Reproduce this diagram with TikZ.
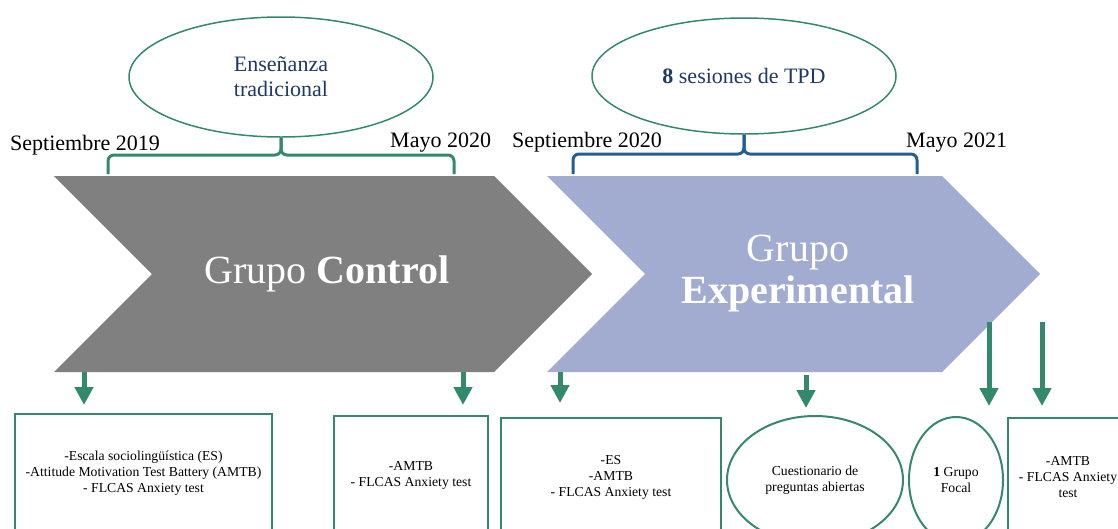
\documentclass[tikz,border=0pt]{standalone}
\usepackage{fontspec}
\setmainfont{Liberation Serif}
\usetikzlibrary{shapes,arrows.meta,positioning}
\definecolor{verde}{RGB}{50,137,108}
\definecolor{azul}{RGB}{35,94,145}
\definecolor{marino}{RGB}{31,56,100}
\definecolor{lila}{RGB}{162,171,208}
\definecolor{gris}{RGB}{128,128,128}
\tikzstyle{burbuja}=[ellipse,draw=verde,line width=1.5pt,inner sep=0pt,align=center,text=marino,font=\fontsize{22}{25}\selectfont]
\tikzstyle{burbujachica}=[ellipse,draw=verde,line width=2pt,inner sep=0pt,align=center,font=\fontsize{13.7}{16}\selectfont]
\tikzstyle{caja}=[rectangle,draw=verde,line width=2pt,inner sep=0pt,align=center,font=\fontsize{13.7}{16}\selectfont]
\tikzstyle{fecha}=[anchor=base west,inner sep=0pt,font=\fontsize{22}{26}\selectfont]
\tikzstyle{grupo}=[text=white,align=center,font=\fontsize{40}{42}\selectfont]
\tikzstyle{llave}=[line width=3pt,rounded corners=6pt]
\tikzstyle{flecha}=[draw=verde,line width=5pt,-{Triangle[width=18pt,length=18pt]}]

\begin{document}
\begin{tikzpicture}[x=1pt,y=-1pt]
\useasboundingbox (0,0) rectangle (1118,528);
\clip (0,0) rectangle (1118,528);

%Control
    \fill[gris] (54,176) -- (494,176) -- (592,274) -- (494,372) -- (54,372) -- (152,274) -- cycle;
    \node[grupo] (gctrl) at (327,274) {Grupo \textbf{Control}};
    \node[burbuja, minimum width=304pt, minimum height=120pt] (ens) at (281,77) {Ense\~nanza\\tradicional};
    \coordinate (ci) at (108,174);
    \coordinate (cf) at (454,174);
    \draw[llave,verde] (ens.south) |- (ci |- 0,155) -- (ci);
    \draw[llave,verde] (ens.south) |- (cf |- 0,155) -- (cf);

%Experimental
    \fill[lila] (547,176) -- (942,176) -- (1040,274) -- (942,372) -- (547,372) -- (645,274) -- cycle;
    \node[grupo] (gexp) at (798,274) {Grupo\\\textbf{Experimental}};
    \node[burbuja, minimum width=304pt, minimum height=116pt] (tpd) at (744,76) {\textbf{8} sesiones de TPD};
    \coordinate (ei) at (573,174);
    \coordinate (ef) at (917,174);
    \draw[llave,azul] (tpd.south) |- (ei |- 0,154) -- (ei);
    \draw[llave,azul] (tpd.south) |- (ef |- 0,154) -- (ef);

%Fechas
    \foreach \pos/\name/\label in {{(10,150)/f19/Septiembre 2019}, {(390,147)/m20/Mayo 2020}, {(512,147)/f20/Septiembre 2020}, {(906,147)/m21/Mayo 2021}}
        \node[fecha] (\name) at \pos {\label};

%Instrumentos
    \node[caja, minimum width=257pt, minimum height=118pt] (ins1) at (143.5,473) {-Escala socioling\"u\'istica (ES)\\-Attitude Motivation Test Battery (AMTB)\\- FLCAS Anxiety test};
    \node[caja, minimum width=154pt, minimum height=118pt] (ins2) at (411,475) {-AMTB\\- FLCAS Anxiety test};
    \node[caja, minimum width=220pt, minimum height=118pt] (ins3) at (611,477) {-ES\\-AMTB\\- FLCAS Anxiety test};
    \node[burbujachica, minimum width=176pt, minimum height=128pt] (ins4) at (815,480) {Cuestionario de\\preguntas abiertas};
    \node[burbujachica, minimum width=94pt, minimum height=126pt] (ins5) at (956,480) {\textbf{1} Grupo\\Focal};
    \node[caja, minimum width=120pt, minimum height=118pt] (ins6) at (1068,477) {-AMTB\\- FLCAS Anxiety\\test};

  \foreach \name/\x/\ya/\yb in {a1/84/372/405, a2/463/372/405, a3/560/372/403, a4/806/375/408, a5/989/322/406, a6/1042/322/406}
  {
      \coordinate (\name-ini) at (\x,\ya);
      \coordinate (\name-fin) at (\x,\yb);
      \draw[flecha] (\name-ini) -- (\name-fin);
  }

\end{tikzpicture}
\end{document}
